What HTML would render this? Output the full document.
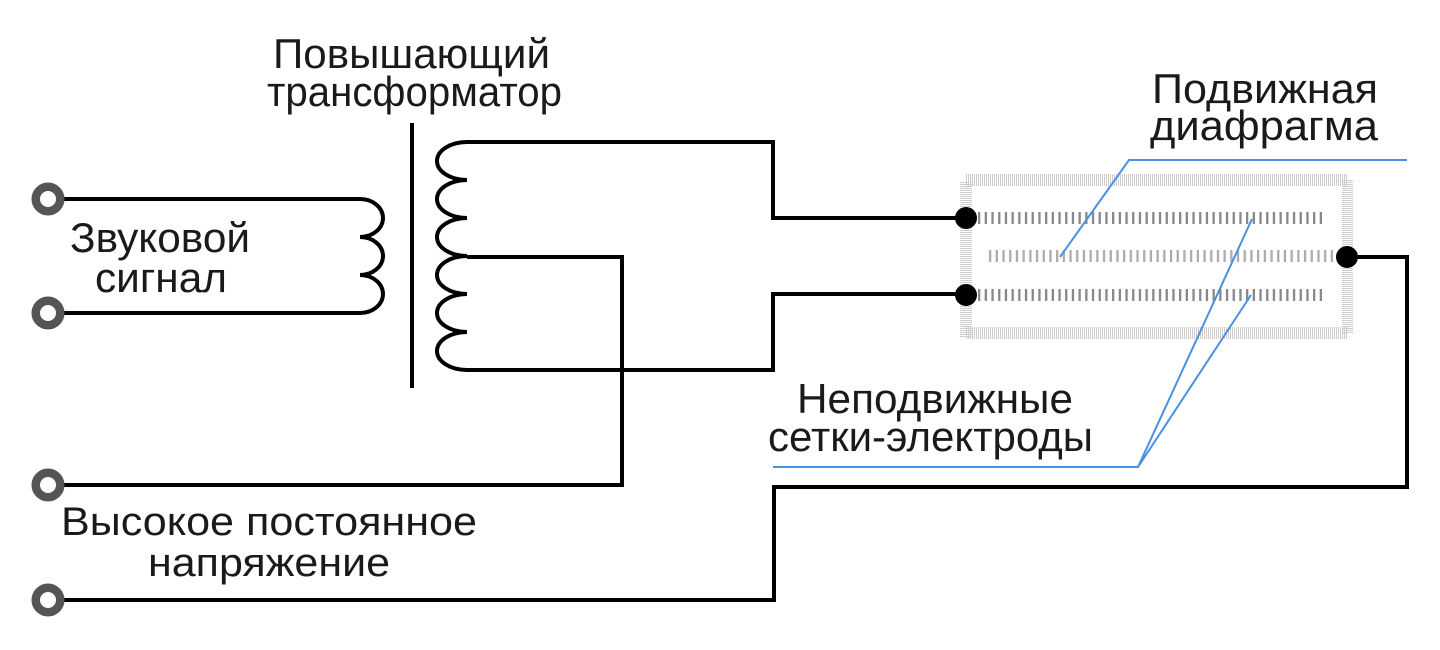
<!DOCTYPE html>
<html>
<head>
<meta charset="utf-8">
<style>
  html, body { margin: 0; padding: 0; background: #fff; }
  svg { display: block; }
  text { font-family: "Liberation Sans", "DejaVu Sans", sans-serif; fill: #1a1a1a; }
</style>
</head>
<body>
<svg width="1440" height="650" viewBox="0 0 1440 650" xmlns="http://www.w3.org/2000/svg">
  <rect width="1440" height="650" fill="#fff"/>

  <!-- Diaphragm frame (hatched light gray) -->
  <g stroke="#cdcdcd" fill="none">
    <line x1="966" y1="180" x2="1347" y2="180" stroke-width="12" stroke-dasharray="1 1"/>
    <line x1="966" y1="333" x2="1347" y2="333" stroke-width="12" stroke-dasharray="1 1"/>
    <line x1="966" y1="182" x2="966" y2="338" stroke-width="12" stroke-dasharray="1 1"/>
    <line x1="1347.5" y1="180" x2="1347.5" y2="333" stroke-width="11" stroke-dasharray="1 1"/>
  </g>

  <!-- Electrode rows -->
  <line x1="978" y1="218" x2="1324" y2="218" stroke="#888" stroke-width="12" stroke-dasharray="2.3 4.4"/>
  <line x1="989" y1="256" x2="1337" y2="256" stroke="#adadad" stroke-width="12" stroke-dasharray="2.3 4.4"/>
  <line x1="978" y1="295" x2="1324" y2="295" stroke="#888" stroke-width="12" stroke-dasharray="2.3 4.4"/>

  <!-- Wires -->
  <g stroke="#000" stroke-width="4" fill="none" stroke-linejoin="miter">
    <path d="M62,199 H360 A23,19 0 0 1 360,237 A23,19 0 0 1 360,275 A23,19 0 0 1 360,313 H62"/>
    <line x1="412" y1="123" x2="412" y2="388"/>
    <path d="M965,218 H773 V142 H467 A30,19 0 0 0 467,180 A30,19 0 0 0 467,218 A30,19 0 0 0 467,256 A30,19 0 0 0 467,294 A30,19 0 0 0 467,332 A30,19 0 0 0 467,370 H773 V294 H965"/>
    <path d="M467,257 H622 V485 H62"/>
    <path d="M62,600 H774 V487 H1407 V257 H1347"/>
  </g>

  <!-- Connection dots -->
  <circle cx="966" cy="218" r="11" fill="#000"/>
  <circle cx="966" cy="295" r="11" fill="#000"/>
  <circle cx="1347" cy="257" r="11" fill="#000"/>

  <!-- Terminals -->
  <g fill="#fff" stroke="#555" stroke-width="8.5">
    <circle cx="48" cy="199" r="12.25"/>
    <circle cx="48" cy="313" r="12.25"/>
    <circle cx="48" cy="485" r="12.25"/>
    <circle cx="48" cy="600" r="12.25"/>
  </g>

  <!-- Blue leader lines -->
  <g stroke="#4a90e2" stroke-width="2" fill="none">
    <path d="M1407,160 H1129 L1060,257"/>
    <path d="M773,467 H1138 L1252,219 M1138,467 L1251,295"/>
  </g>

  <!-- Labels -->
  <text x="273" y="68" font-size="42" textLength="277" lengthAdjust="spacingAndGlyphs">Повышающий</text>
  <text x="267" y="106" font-size="42" textLength="295" lengthAdjust="spacingAndGlyphs">трансформатор</text>

  <text x="70" y="252" font-size="42" textLength="180" lengthAdjust="spacingAndGlyphs">Звуковой</text>
  <text x="95" y="292" font-size="42" textLength="132" lengthAdjust="spacingAndGlyphs">сигнал</text>

  <text x="1152" y="103" font-size="42" textLength="226" lengthAdjust="spacingAndGlyphs">Подвижная</text>
  <text x="1150" y="140" font-size="42" textLength="228" lengthAdjust="spacingAndGlyphs">диафрагма</text>

  <text x="797" y="413" font-size="42" textLength="276" lengthAdjust="spacingAndGlyphs">Неподвижные</text>
  <text x="768" y="451" font-size="42" textLength="325" lengthAdjust="spacingAndGlyphs">сетки-электроды</text>

  <text x="61" y="535" font-size="40" textLength="416" lengthAdjust="spacingAndGlyphs">Высокое постоянное</text>
  <text x="148" y="576" font-size="40" textLength="242" lengthAdjust="spacingAndGlyphs">напряжение</text>
</svg>
</body>
</html>
